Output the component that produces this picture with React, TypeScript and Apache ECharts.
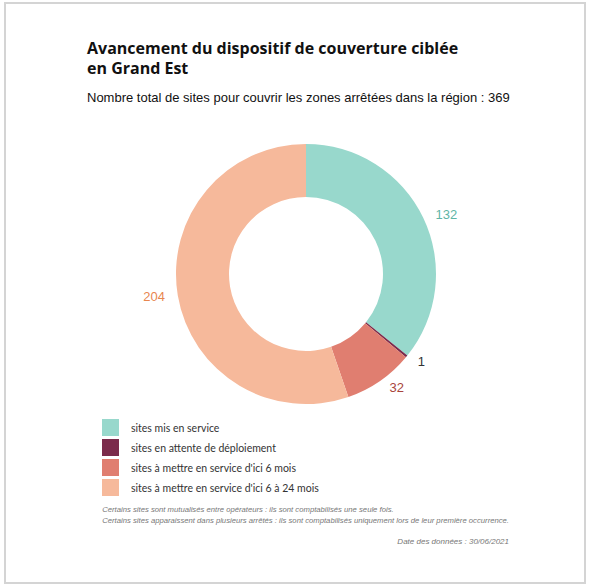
import React, { useEffect, useRef } from "react";
import * as echarts from "echarts";

const categories = [
  "sites mis en service",
  "sites en attente de déploiement",
  "sites à mettre en service d'ici 6 mois",
  "sites à mettre en service d'ici 6 à 24 mois",
];
const values = [132, 1, 32, 204];
const sliceColors = ["#98d8cc", "#7b2b4b", "#e07e70", "#f6b99b"];
const labelColors = ["#5fb5a6", "#333333", "#a9443c", "#e8864f"];
const titleLines = ["Avancement du dispositif de couverture ciblée", "en Grand Est"];
const subtitle = "Nombre total de sites pour couvrir les zones arrêtées dans la région : 369";
const notes = [
  "Certains sites sont mutualisés entre opérateurs : ils sont comptabilisés une seule fois.",
  "Certains sites apparaissent dans plusieurs arrêtés : ils sont comptabilisés uniquement lors de leur première occurrence.",
];
const dateNote = "Date des données : 30/06/2021";

export default function App() {
  const ref = useRef<HTMLDivElement>(null);
  useEffect(() => {
    document.body.style.margin = "0";
    const chart = echarts.init(ref.current!, null, { renderer: "svg" });
    chart.setOption({
      animation: false,
      backgroundColor: "#ffffff",
      graphic: [
        {
          type: "rect",
          shape: { x: 5, y: 3, width: 580, height: 580 },
          style: { fill: "none", stroke: "#d4d4d4", lineWidth: 2 },
        },
        {
          type: "text",
          left: 87,
          top: 38,
          style: {
            text: titleLines.join("\n"),
            font: "bold 16px 'Open Sans'",
            fill: "#111111",
            lineHeight: 20,
          },
        },
        {
          type: "text",
          left: 87,
          top: 91,
          style: {
            text: subtitle,
            font: "13px 'Liberation Sans'",
            fill: "#111111",
          },
        },
        {
          type: "text",
          right: 81,
          top: 504,
          style: {
            text: notes.join("\n"),
            font: "italic 7.7px 'Liberation Sans'",
            fill: "#777777",
            align: "right",
            lineHeight: 11,
          },
        },
        {
          type: "text",
          right: 81,
          top: 537,
          style: {
            text: dateNote,
            font: "italic 8px 'Liberation Sans'",
            fill: "#777777",
            align: "right",
          },
        },
      ],
      legend: {
        orient: "vertical",
        left: 102,
        top: 419,
        padding: 0,
        icon: "rect",
        itemWidth: 17,
        itemHeight: 17,
        itemGap: 3,
        selectedMode: false,
        textStyle: {
          fontFamily: "Lato",
          fontSize: 10.5,
          color: "#333333",
          padding: [0, 0, 0, 7],
        },
        data: categories,
      },
      series: [
        {
          type: "pie",
          center: [306, 274],
          radius: [77, 130],
          startAngle: 90,
          clockwise: true,
          avoidLabelOverlap: false,
          label: {
            show: true,
            position: "outside",
            formatter: "{c}",
            fontFamily: "Liberation Sans",
            fontSize: 13,
          },
          labelLine: { show: false, length: 8, length2: 0 },
          itemStyle: { borderColor: "#ffffff", borderWidth: 0 },
          emphasis: { disabled: true },
          data: categories.map((name, i) => ({
            name,
            value: values[i],
            itemStyle: { color: sliceColors[i] },
            label: { color: labelColors[i] },
          })),
        },
      ],
    });
    return () => chart.dispose();
  }, []);
  return <div ref={ref} style={{ width: 590, height: 587 }} />;
}
